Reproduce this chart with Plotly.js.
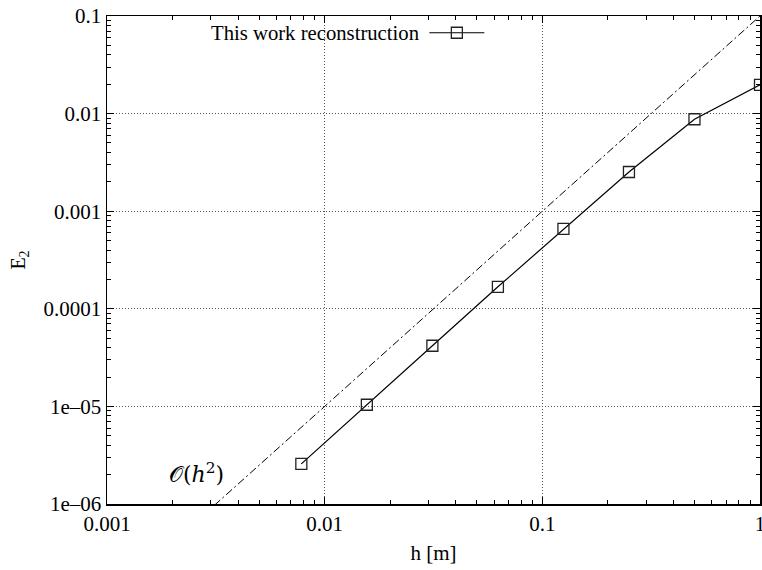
<!DOCTYPE html>
<html>
<head>
<meta charset="utf-8">
<script src="https://cdn.plot.ly/plotly-3.0.1.min.js"></script>
<style>
  html, body { margin: 0; padding: 0; background: #fff; }
  #chart { width: 762px; height: 570px; }
</style>
</head>
<body>
<div id="chart"></div>
<script>
// Mesh size h [m] and L2 error of the reconstruction
const meshSize = [1, 0.5, 0.25, 0.125, 0.0625, 0.03125, 0.015625, 0.0078125];
const errorL2 = [0.0197, 0.00875, 0.00252, 0.000658, 0.000168, 0.0000418, 0.0000104, 0.00000258];

// Second-order reference slope
const refH = [0.001, 1];
const refE = [0.0000001, 0.1];

// Decade ticks
const xTickVals = [0.001, 0.01, 0.1, 1];
const xTickText = ['0.001', '0.01', '0.1', '1'];
const yTickVals = [0.000001, 0.00001, 0.0001, 0.001, 0.01, 0.1];
const yTickText = ['1e\u201306', '1e\u201305', '0.0001', '0.001', '0.01', '0.1'];

// Minor ticks at 2..9 within each decade
function minorTicks(decades) {
  const out = [];
  decades.forEach(function (d) {
    for (let k = 2; k <= 9; k++) out.push(k * d);
  });
  return out;
}

const serif = 'Liberation Serif';

const traces = [
  {
    x: refH, y: refE,
    mode: 'lines',
    line: { color: '#000', width: 1, dash: '8px,3px,2px,3px' },
    showlegend: false,
    hoverinfo: 'skip'
  },
  {
    x: meshSize, y: errorL2,
    mode: 'lines+markers',
    name: ' ',
    line: { color: '#000', width: 1.2 },
    marker: { symbol: 'square-open', size: 11, color: '#222', line: { width: 1.3, color: '#222' } },
    cliponaxis: false
  }
];

function axisBase(minorVals) {
  return {
    type: 'log',
    showline: true,
    linecolor: '#000',
    linewidth: 1.5,
    mirror: 'ticks',
    ticks: 'inside',
    ticklen: 7,
    tickwidth: 1,
    tickcolor: '#000',
    showgrid: true,
    gridcolor: '#555',
    griddash: '1px,2px',
    gridwidth: 1,
    zeroline: false,
    ticklabeloverflow: 'allow',
    tickfont: { family: serif, size: 21, color: '#000' },
    minor: {
      tickmode: 'array',
      tickvals: minorVals,
      ticks: 'inside',
      ticklen: 4,
      tickwidth: 1,
      tickcolor: '#000',
      showgrid: false
    }
  };
}

const layout = {
  width: 762,
  height: 570,
  margin: { l: 107, r: 2, t: 16, b: 66 },
  paper_bgcolor: '#fff',
  plot_bgcolor: '#fff',
  font: { family: serif, color: '#000' },
  xaxis: Object.assign(axisBase(minorTicks([0.001, 0.01, 0.1])), {
    range: [-3, 0],
    tickmode: 'array',
    tickvals: xTickVals,
    ticktext: xTickText,
    title: { text: 'h [m]', font: { family: serif, size: 21 }, standoff: 10 }
  }),
  yaxis: Object.assign(axisBase(minorTicks([0.000001, 0.00001, 0.0001, 0.001, 0.01])), {
    range: [-6, -1],
    tickmode: 'array',
    tickvals: yTickVals,
    ticktext: yTickText,
    title: { text: 'E<sub>2</sub>', font: { family: serif, size: 20 }, standoff: 12 }
  }),
  showlegend: true,
  legend: {
    x: 0.486, y: 0.965,
    xanchor: 'left', yanchor: 'middle',
    bgcolor: 'rgba(0,0,0,0)',
    itemwidth: 55,
    font: { family: serif, size: 21 }
  },
  annotations: [
    {
      xref: 'paper', yref: 'paper',
      x: 0.482, y: 0.965,
      xanchor: 'right', yanchor: 'middle',
      text: 'This work reconstruction',
      showarrow: false,
      font: { family: serif, size: 20.7, color: '#000' }
    },
    {
      x: Math.log10(0.00258), y: Math.log10(0.0000021),
      text: '\uD835\uDCAA(<i>h</i><sup>2</sup>)',
      showarrow: false,
      font: { family: 'DejaVu Serif', size: 22, color: '#000' }
    }
  ]
};

Plotly.newPlot('chart', traces, layout, { displayModeBar: false, staticPlot: true });
</script>
</body>
</html>
